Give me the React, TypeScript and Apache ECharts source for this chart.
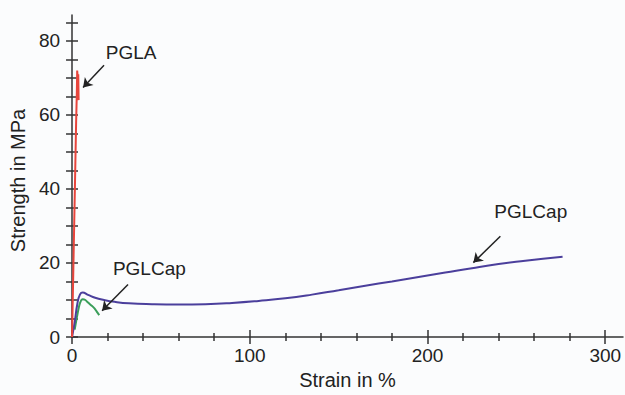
import React, { useEffect, useRef } from "react";
import * as echarts from "echarts";

const pglaData: [number, number][] = [
  [0, 0], [0.8, 20], [1.6, 40], [2.3, 58], [2.7, 66], [2.9, 72], [3.2, 70], [3.4, 66], [3.5, 71], [3.7, 64],
];
const pglcapBlue: [number, number][] = [
  [0, 0], [1.5, 4], [3, 9], [4.5, 11.5], [6, 12], [9, 11.4], [13, 10.6], [18, 10], [24, 9.5], [32, 9.1],
  [45, 8.85], [60, 8.75], [75, 8.85], [90, 9.2], [105, 9.75], [120, 10.45], [135, 11.45], [150, 12.65],
  [165, 13.85], [180, 15.0], [195, 16.2], [210, 17.4], [225, 18.6], [240, 19.7], [255, 20.6], [265, 21.15], [276, 21.7],
];
const pglcapGreen: [number, number][] = [
  [1.5, 2], [3, 6], [4.5, 9.2], [6, 10.2], [7.5, 10], [9, 9.3], [10.7, 8.6], [12.5, 7.8], [14, 6.8], [15.3, 5.9],
];

const strainMajor = [0, 100, 200, 300];
const strainMinor = [20, 40, 60, 80, 120, 140, 160, 180, 220, 240, 260, 280];
const strengthMajor = [0, 20, 40, 60, 80];
const strengthAll = [0, 5, 10, 15, 20, 25, 30, 35, 40, 45, 50, 55, 60, 65, 70, 75, 80, 85];

const annotationTexts = [
  { name: "PGLA", value: [19, 76.8] },
  { name: "PGLCap", value: [23, 18.4] },
  { name: "PGLCap", value: [237.6, 33.8] },
];
const annotationArrows = [
  { coords: [[18, 73.4], [6.2, 67.4]] },
  { coords: [[31.5, 14.2], [16.9, 7.1]] },
  { coords: [[241, 27.2], [225.8, 20.1]] },
];

const FONT = "'Liberation Sans', Arial, Helvetica, sans-serif";
const TXT = "#222222";
const X_MAX = 310;
const Y_MAX = 87;

export default function App() {
  const ref = useRef<HTMLDivElement>(null);
  useEffect(() => {
    if (!ref.current) return;
    const chart = echarts.init(ref.current, null, { renderer: "svg" });
    const baseX = { type: "value", min: 0, max: X_MAX, gridIndex: 0, position: "bottom", splitLine: { show: false } };
    const baseY = { type: "value", min: 0, max: Y_MAX, gridIndex: 0, position: "left", splitLine: { show: false } };
    const hiddenLabel = { show: false };
    const tickStyle = { color: "#333", width: 1.5 };
    chart.setOption({
      animation: false,
      backgroundColor: "#fbfcfd",
      textStyle: { fontFamily: FONT },
      grid: { left: 71, right: 2, top: 15, bottom: 52 },
      xAxis: [
        {
          ...baseX,
          name: "Strain in %",
          nameLocation: "middle",
          nameGap: 33,
          nameTextStyle: { fontSize: 20, color: TXT, fontFamily: FONT },
          axisLine: { show: true, lineStyle: tickStyle },
          axisTick: { show: true, customValues: strainMajor, length: 7, lineStyle: tickStyle },
          axisLabel: { customValues: strainMajor, fontSize: 19, color: TXT, margin: 9, fontFamily: FONT },
        },
        {
          ...baseX,
          axisLine: { show: false },
          axisTick: { show: true, inside: true, customValues: strainMajor, length: 7, lineStyle: tickStyle },
          axisLabel: hiddenLabel,
        },
        {
          ...baseX,
          axisLine: { show: false },
          axisTick: { show: true, customValues: strainMinor, length: 4, lineStyle: tickStyle },
          axisLabel: hiddenLabel,
        },
        {
          ...baseX,
          axisLine: { show: false },
          axisTick: { show: true, inside: true, customValues: strainMinor, length: 4, lineStyle: tickStyle },
          axisLabel: hiddenLabel,
        },
      ],
      yAxis: [
        {
          ...baseY,
          name: "Strength in MPa",
          nameLocation: "middle",
          nameGap: 39,
          nameTextStyle: { fontSize: 20, color: TXT, fontFamily: FONT, padding: [0, 9, 0, 0] },
          axisLine: { show: true, lineStyle: tickStyle },
          axisTick: { show: true, customValues: strengthAll, length: 6, lineStyle: tickStyle },
          axisLabel: { customValues: strengthMajor, fontSize: 19, color: TXT, margin: 12, fontFamily: FONT },
        },
        {
          ...baseY,
          axisLine: { show: false },
          axisTick: { show: true, inside: true, customValues: strengthAll, length: 6, lineStyle: tickStyle },
          axisLabel: hiddenLabel,
        },
      ],
      series: [
        {
          type: "line",
          data: pglcapGreen,
          showSymbol: false,
          smooth: 0.3,
          lineStyle: { color: "#3a9e5a", width: 2 },
          z: 2,
        },
        {
          type: "line",
          data: pglcapBlue,
          showSymbol: false,
          smooth: 0.5,
          lineStyle: { color: "#4b3f9c", width: 2 },
          z: 3,
        },
        {
          type: "line",
          data: pglaData,
          showSymbol: false,
          lineStyle: { color: "#e8453c", width: 2 },
          z: 4,
        },
        {
          type: "lines",
          coordinateSystem: "cartesian2d",
          data: annotationArrows,
          symbol: ["none", "arrow"],
          symbolSize: 9,
          lineStyle: { color: "#222", width: 1.5, opacity: 1 },
          silent: true,
          z: 5,
        },
        {
          type: "scatter",
          data: annotationTexts,
          symbolSize: 0,
          silent: true,
          itemStyle: { opacity: 1 },
          label: {
            show: true,
            position: "inside",
            align: "left",
            verticalAlign: "middle",
            formatter: (p: any) => p.name,
            fontSize: 19,
            color: TXT,
            opacity: 1,
            fontFamily: FONT,
          },
          z: 6,
        },
      ],
    });
    return () => chart.dispose();
  }, []);
  return <div ref={ref} style={{ width: 625, height: 395, position: "absolute", left: 0, top: 0 }} />;
}
